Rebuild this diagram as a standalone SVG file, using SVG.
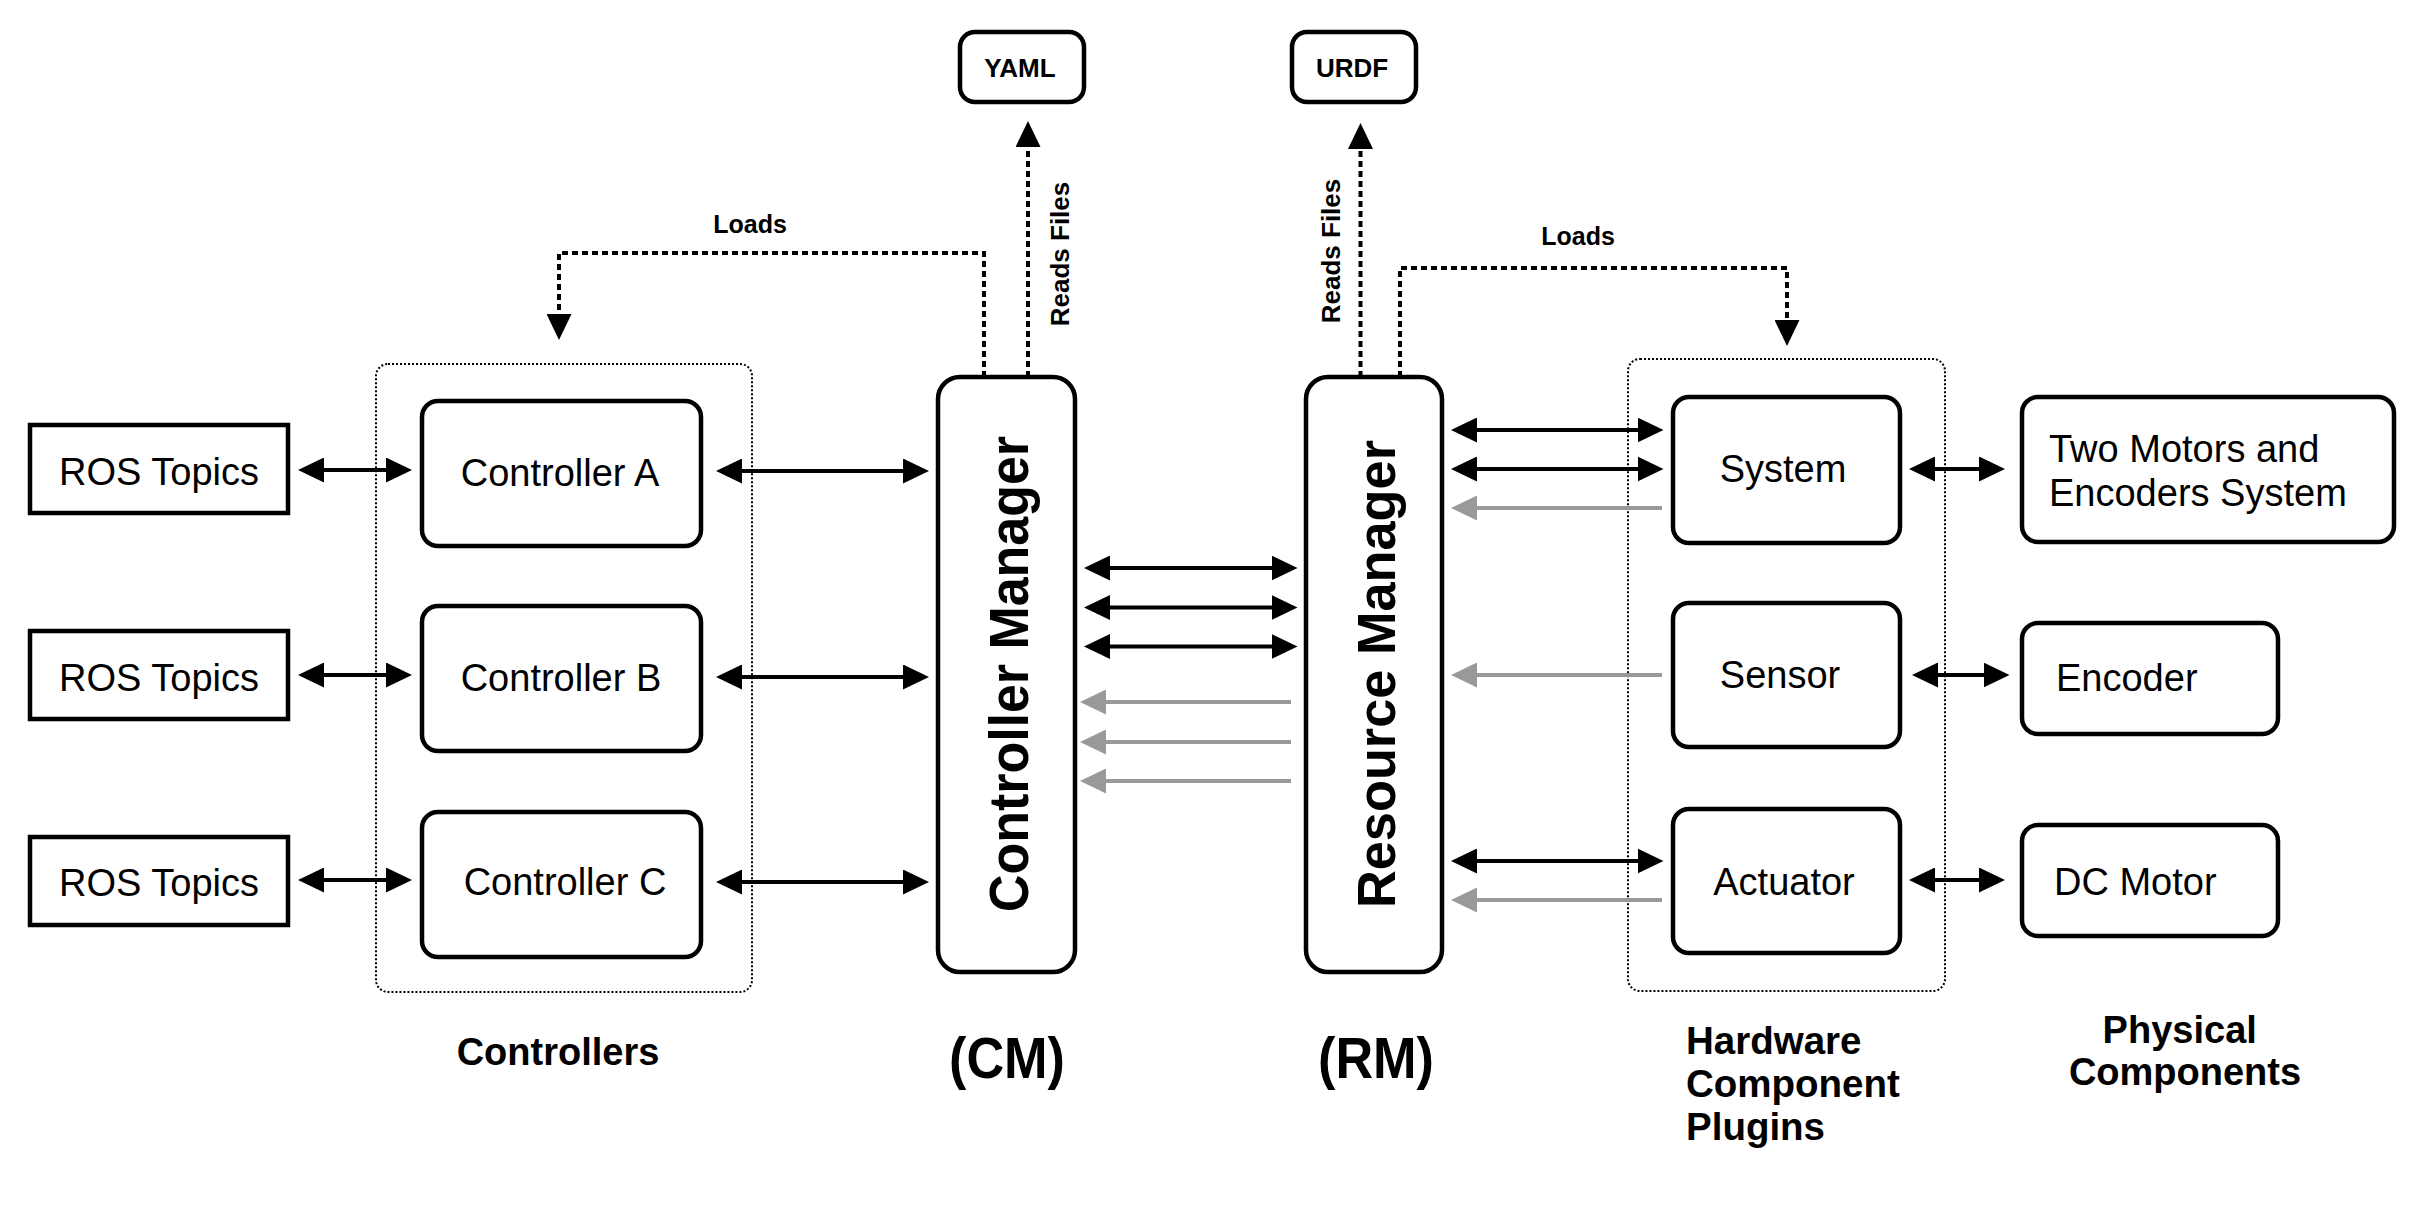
<svg xmlns="http://www.w3.org/2000/svg" width="2420" height="1216" viewBox="0 0 2420 1216">
<style>
  .box { fill: #fff; stroke: #000; stroke-width: 4.5; }
  .grp { fill: none; stroke: #000; stroke-width: 2; stroke-dasharray: 2 2; }
  .t { font-family: "Liberation Sans", Arial, Helvetica, sans-serif; font-size: 38px; fill: #000; }
  .b { font-family: "Liberation Sans", Arial, Helvetica, sans-serif; font-weight: bold; fill: #000; }
  .c { text-anchor: middle; }
  .blk { stroke: #000; stroke-width: 4; fill: none; marker-start: url(#ah); marker-end: url(#ah); }
  .gry { stroke: #999; stroke-width: 4; fill: none; marker-end: url(#ahg); }
  .dot { stroke: #000; stroke-width: 4; fill: none; stroke-dasharray: 6 4; marker-end: url(#ah); }
</style>
<defs>
  <marker id="ah" markerUnits="userSpaceOnUse" markerWidth="26" markerHeight="25" viewBox="0 0 26 25" refX="4" refY="12.5" orient="auto-start-reverse">
    <path d="M0,0 L26,12.5 L0,25 z" fill="#000"/>
  </marker>
  <marker id="ahg" markerUnits="userSpaceOnUse" markerWidth="26" markerHeight="25" viewBox="0 0 26 25" refX="4" refY="12.5" orient="auto-start-reverse">
    <path d="M0,0 L26,12.5 L0,25 z" fill="#999"/>
  </marker>
</defs>
<rect width="2420" height="1216" fill="#fff"/>

<!-- group containers -->
<g id="controllers-group">
  <rect class="grp" x="376" y="364" width="376" height="628" rx="12"/>
  <text class="b c" x="558" y="1065" font-size="38">Controllers</text>
</g>
<g id="hardware-group">
  <rect class="grp" x="1628" y="359" width="317" height="632" rx="12"/>
  <text class="b" font-size="38.5">
    <tspan x="1686" y="1054">Hardware</tspan>
    <tspan x="1686" y="1097">Component</tspan>
    <tspan x="1686" y="1140">Plugins</tspan>
  </text>
</g>
<g id="physical-label">
  <text class="b c" font-size="38">
    <tspan x="2185" y="1043">Physical</tspan>
    <tspan x="2185" y="1085">Components</tspan>
  </text>
</g>

<!-- connectors -->
<g id="connectors">
  <line class="blk" x1="320" y1="470" x2="390" y2="470"/>
  <line class="blk" x1="320" y1="675" x2="390" y2="675"/>
  <line class="blk" x1="320" y1="880" x2="390" y2="880"/>

  <line class="blk" x1="738" y1="471" x2="907" y2="471"/>
  <line class="blk" x1="738" y1="677" x2="907" y2="677"/>
  <line class="blk" x1="738" y1="882" x2="907" y2="882"/>

  <line class="blk" x1="1106" y1="568" x2="1275.5" y2="568"/>
  <line class="blk" x1="1106" y1="607.5" x2="1275.5" y2="607.5"/>
  <line class="blk" x1="1106" y1="646.5" x2="1275.5" y2="646.5"/>
  <line class="gry" x1="1291" y1="702" x2="1102" y2="702"/>
  <line class="gry" x1="1291" y1="742" x2="1102" y2="742"/>
  <line class="gry" x1="1291" y1="781" x2="1102" y2="781"/>

  <line class="blk" x1="1473" y1="430" x2="1641.5" y2="430"/>
  <line class="blk" x1="1473" y1="469" x2="1641.5" y2="469"/>
  <line class="gry" x1="1662" y1="508" x2="1473" y2="508"/>
  <line class="gry" x1="1662" y1="675" x2="1473" y2="675"/>
  <line class="blk" x1="1473" y1="861" x2="1641.5" y2="861"/>
  <line class="gry" x1="1662" y1="900" x2="1473" y2="900"/>

  <line class="blk" x1="1931" y1="469" x2="1983" y2="469"/>
  <line class="blk" x1="1934" y1="675" x2="1987.5" y2="675"/>
  <line class="blk" x1="1931" y1="880" x2="1983" y2="880"/>

  <path class="dot" d="M1028,377 V143"/>
  <path class="dot" d="M1360.5,377 V145"/>
  <path class="dot" d="M984,377 V253 H559 V318"/>
  <path class="dot" d="M1400,377 V268 H1787 V324"/>

  <text class="b c" x="750" y="233" font-size="25">Loads</text>
  <text class="b c" x="1578" y="245" font-size="25">Loads</text>
  <text class="b c" font-size="26" transform="translate(1069,254) rotate(-90)">Reads Files</text>
  <text class="b c" font-size="26" transform="translate(1340,251) rotate(-90)">Reads Files</text>
</g>

<!-- nodes -->
<g id="ros-topics-1"><rect class="box" x="30" y="425" width="258" height="88"/><text class="t c" x="159" y="485" font-size="37.5">ROS Topics</text></g>
<g id="ros-topics-2"><rect class="box" x="30" y="631" width="258" height="88"/><text class="t c" x="159" y="691" font-size="37.5">ROS Topics</text></g>
<g id="ros-topics-3"><rect class="box" x="30" y="837" width="258" height="88"/><text class="t c" x="159" y="896" font-size="37.5">ROS Topics</text></g>

<g id="controller-a"><rect class="box" x="422" y="401" width="279" height="145" rx="16"/><text class="t c" x="560" y="486">Controller A</text></g>
<g id="controller-b"><rect class="box" x="422" y="606" width="279" height="145" rx="16"/><text class="t c" x="561" y="691">Controller B</text></g>
<g id="controller-c"><rect class="box" x="422" y="812" width="279" height="145" rx="16"/><text class="t c" x="565" y="895">Controller C</text></g>

<g id="controller-manager">
  <rect class="box" x="938" y="377" width="137" height="595" rx="22"/>
  <text class="b c" font-size="55" textLength="476" lengthAdjust="spacingAndGlyphs" transform="translate(1028,674) rotate(-90)">Controller Manager</text>
  <text class="b c" x="1007" y="1078" font-size="58" textLength="116" lengthAdjust="spacingAndGlyphs">(CM)</text>
</g>
<g id="resource-manager">
  <rect class="box" x="1306" y="377" width="136" height="595" rx="22"/>
  <text class="b c" font-size="54" textLength="468" lengthAdjust="spacingAndGlyphs" transform="translate(1395,674) rotate(-90)">Resource Manager</text>
  <text class="b c" x="1376" y="1078" font-size="58" textLength="116" lengthAdjust="spacingAndGlyphs">(RM)</text>
</g>

<g id="yaml"><rect class="box" x="960" y="32" width="124" height="70" rx="15"/><text class="b c" x="1020" y="77" font-size="26">YAML</text></g>
<g id="urdf"><rect class="box" x="1292" y="32" width="124" height="70" rx="15"/><text class="b c" x="1352" y="77" font-size="26">URDF</text></g>

<g id="system"><rect class="box" x="1673" y="397" width="227" height="146" rx="16"/><text class="t c" x="1783" y="482">System</text></g>
<g id="sensor"><rect class="box" x="1673" y="603" width="227" height="144" rx="16"/><text class="t c" x="1780" y="688">Sensor</text></g>
<g id="actuator"><rect class="box" x="1673" y="809" width="227" height="144" rx="16"/><text class="t c" x="1784" y="895">Actuator</text></g>

<g id="two-motors"><rect class="box" x="2022" y="397" width="372" height="145" rx="16"/><text class="t"><tspan x="2049" y="462">Two Motors and</tspan><tspan x="2049" y="506">Encoders System</tspan></text></g>
<g id="encoder"><rect class="box" x="2022" y="623" width="256" height="111" rx="16"/><text class="t" x="2056" y="691">Encoder</text></g>
<g id="dc-motor"><rect class="box" x="2022" y="825" width="256" height="111" rx="16"/><text class="t" x="2054" y="895">DC Motor</text></g>
</svg>
